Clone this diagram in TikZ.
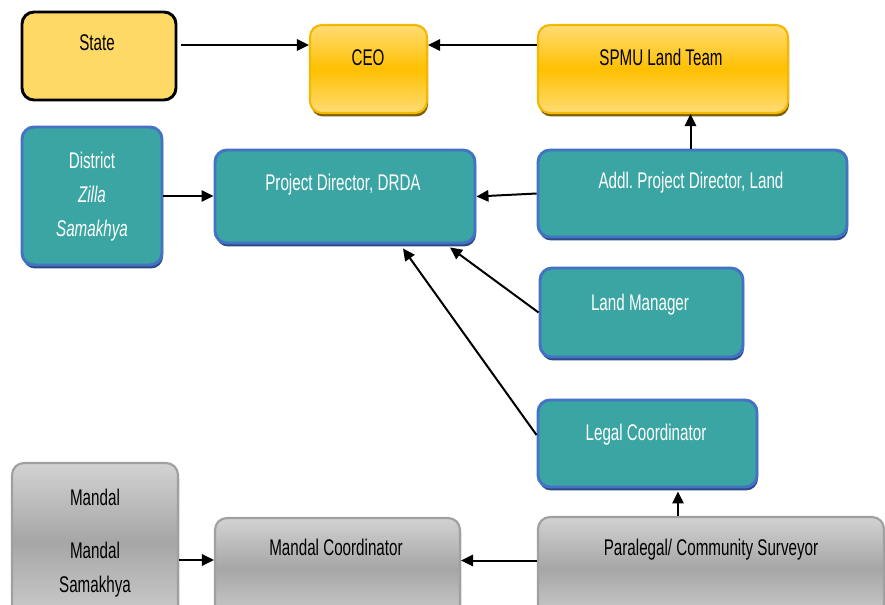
\documentclass[tikz,border=0pt]{standalone}
\usepackage{fontspec}
\setmainfont[FakeStretch=0.67]{Liberation Sans}
\usetikzlibrary{arrows.meta,shadows,calc}
\frenchspacing

\definecolor{tealfill}{HTML}{3AA5A2}
\definecolor{tealedge}{HTML}{4472C4}
\definecolor{tealshade}{HTML}{2C4A84}
\definecolor{statefill}{HTML}{FFD966}
\definecolor{goldlight}{HTML}{FFDC75}
\definecolor{goldmid}{HTML}{FFC000}
\definecolor{goldedge}{HTML}{F5B800}
\definecolor{goldshade}{HTML}{7F6000}
\definecolor{graylight}{HTML}{D2D2D2}
\definecolor{graymid}{HTML}{A6A6A6}
\definecolor{grayedge}{HTML}{A0A0A0}
\definecolor{grayshade}{HTML}{6A6A6A}

\newcommand{\pxu}{0.75pt}

\tikzset{
  box/.style={rectangle, rounded corners=9pt, inner sep=0pt},
  statebox/.style={box, draw=black, line width=2.2pt, fill=statefill},
  goldbox/.style={box, draw=goldedge, line width=1.6pt,
    top color=goldlight, bottom color=goldlight, middle color=goldmid,
    general shadow={fill=goldshade, shadow xshift=0.8pt, shadow yshift=-2.6pt}},
  tealbox/.style={box, draw=tealedge, line width=2.2pt, fill=tealfill,
    general shadow={fill=tealshade, shadow xshift=0.8pt, shadow yshift=-2.6pt}},
  graybox/.style={box, draw=grayedge, line width=1.6pt,
    top color=graylight, bottom color=graylight!90!graymid, middle color=graymid,
    general shadow={fill=grayshade, shadow xshift=0.8pt, shadow yshift=-2.6pt}},
  dtxt/.style={anchor=base, inner sep=0pt, font=\fontsize{17pt}{20pt}\selectfont, text=black},
  wtxt/.style={dtxt, text=white},
  link/.style={line width=1.5pt, -{Triangle[length=9pt,width=8.5pt]}},
}

\begin{document}
\begin{tikzpicture}[x=0.75pt, y=-0.75pt]
\clip (0,0) rectangle (885,604);
\fill[white] (0,0) rectangle (885,604);

% boxes
\node[statebox, minimum width=154*\pxu, minimum height=88*\pxu] (state) at (99,56) {};
\node[goldbox, minimum width=117*\pxu, minimum height=88*\pxu] (ceo) at (368.5,69) {};
\node[goldbox, minimum width=250*\pxu, minimum height=88*\pxu] (spmu) at (663,69) {};
\node[tealbox, minimum width=309*\pxu, minimum height=87*\pxu] (addl) at (692.5,193.5) {};
\node[tealbox, minimum width=140*\pxu, minimum height=138*\pxu] (district) at (92,196) {};
\node[tealbox, minimum width=260*\pxu, minimum height=93*\pxu] (pd) at (345,196.5) {};
\node[tealbox, minimum width=203*\pxu, minimum height=89*\pxu] (lm) at (641.5,312.5) {};
\node[tealbox, minimum width=219*\pxu, minimum height=87*\pxu] (legal) at (647.5,443.5) {};
\node[graybox, minimum width=166*\pxu, minimum height=157*\pxu] (mandal) at (95,541.5) {};
\node[graybox, minimum width=245*\pxu, minimum height=102*\pxu] (mc) at (337.5,569) {};
\node[graybox, minimum width=346*\pxu, minimum height=103*\pxu] (para) at (711,568.5) {};

% labels
\node[dtxt] (state-t) at (97,50) {State};
\node[dtxt] (ceo-t) at (368,65) {CEO};
\node[dtxt] (spmu-t) at (661,65) {SPMU Land Team};
\node[wtxt] (addl-t) at (691,188) {Addl. Project Director, Land};
\node[wtxt] (district-t1) at (92,168) {District};
\node[wtxt] (district-t2) at (92,202) {\itshape Zilla};
\node[wtxt] (district-t3) at (92,236) {\itshape Samakhya};
\node[wtxt] (pd-t) at (343,190) {Project Director, DRDA};
\node[wtxt] (lm-t) at (640,310) {Land Manager};
\node[wtxt] (legal-t) at (646,440) {Legal Coordinator};
\node[dtxt] (mandal-t1) at (95,505) {Mandal};
\node[dtxt] (mandal-t2) at (95,558) {Mandal};
\node[dtxt] (mandal-t3) at (95,592) {Samakhya};
\node[dtxt] (mc-t) at (336,555) {Mandal Coordinator};
\node[dtxt] (para-t) at (711,555) {Paralegal/ Community Surveyor};

% connector end points
\coordinate (addl-up) at ($(addl.north)+(-2,0)$);
\coordinate (para-up) at ($(para.north)+(-33,0)$);

% connectors
\draw[link] ($(state.east)+(4,-11)$) -- ($(ceo.west)+(0,-24)$);
\draw[link] ($(spmu.west)+(0,-24)$) -- ($(ceo.east)+(0,-24)$);
\draw[link] (addl-up) -- (addl-up |- spmu.south);
\draw[link] (addl.west) -- (pd.east);
\draw[link] (district.east) -- (district.east -| pd.west);
\draw[link] (lm.west) -- ($(pd.south)+(105,3)$);
\draw[link] ($(legal.west)+(0,-8.5)$) -- ($(pd.south)+(58,4)$);
\draw[link] (para-up) -- ($(legal.south)+(30.5,3)$);
\draw[link] ($(para.west)+(0,-8)$) -- ($(mc.east)+(0,-8.5)$);
\draw[link] ($(mandal.east)+(0,18.5)$) -- ($(mc.west)+(0,-9)$);
\end{tikzpicture}
\end{document}
